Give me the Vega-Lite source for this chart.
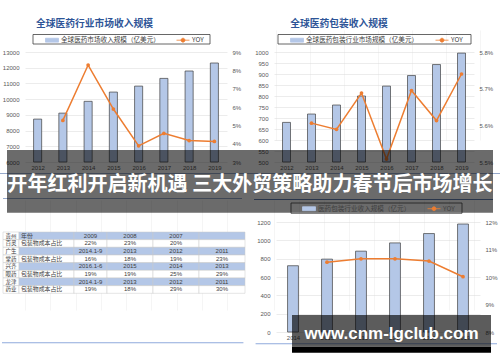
{
  "$schema": "https://vega.github.io/schema/vega-lite/v6.json",
  "width": 500,
  "height": 362,
  "autosize": "none",
  "padding": 0,
  "config": {
    "view": {"stroke": null},
    "font": "Liberation Sans",
    "axis": {"labelFontSize": 6, "labelColor": "#595959", "labelFont": "Liberation Sans", "ticks": false, "domain": false, "grid": false, "title": null, "labelLimit": 100},
    "legend": {"orient": "none", "direction": "horizontal", "title": null, "padding": 0, "labelFontSize": 6.6, "labelFont": "Noto Sans CJK SC", "labelColor": "#404040", "symbolSize": 169, "symbolStrokeWidth": 0.8, "columnPadding": 14, "labelOffset": 2, "labelLimit": 200}
  },
  "datasets": {
    "tl": [
      {"year": "2012", "revenue": 8730, "yoy": null},
      {"year": "2013", "revenue": 9110, "yoy": 0.0527},
      {"year": "2014", "revenue": 9860, "yoy": 0.0829},
      {"year": "2015", "revenue": 10450, "yoy": 0.0589},
      {"year": "2016", "revenue": 10830, "yoy": 0.0388},
      {"year": "2017", "revenue": 11320, "yoy": 0.0456},
      {"year": "2018", "revenue": 11790, "yoy": 0.0417},
      {"year": "2019", "revenue": 12300, "yoy": 0.0412}
    ],
    "tr": [
      {"year": "2012", "revenue": 680, "yoy": null},
      {"year": "2013", "revenue": 718, "yoy": 0.05606},
      {"year": "2014", "revenue": 759, "yoy": 0.05589},
      {"year": "2015", "revenue": 800, "yoy": 0.05688},
      {"year": "2016", "revenue": 845, "yoy": 0.05508},
      {"year": "2017", "revenue": 893, "yoy": 0.05695},
      {"year": "2018", "revenue": 943, "yoy": 0.05613},
      {"year": "2019", "revenue": 995, "yoy": 0.0574}
    ],
    "br": [
      {"year": "2014", "revenue": 723, "yoy": null},
      {"year": "2015", "revenue": 795, "yoy": 0.1054},
      {"year": "2016", "revenue": 882, "yoy": 0.1066},
      {"year": "2017", "revenue": 972, "yoy": 0.1066},
      {"year": "2018", "revenue": 1074, "yoy": 0.1058},
      {"year": "2019", "revenue": 1178, "yoy": 0.1001}
    ],
    "panels": [
      {"panel": "left"},
      {"panel": "right"}
    ],
    "frame": [
      {"frame": "legend box"}
    ],
    "table": [
      {"row": 0, "col": 0, "kind": "year", "text": "贵州"},
      {"row": 0, "col": 1, "kind": "year", "text": "年份"},
      {"row": 0, "col": 2, "kind": "year", "text": "2009"},
      {"row": 0, "col": 3, "kind": "year", "text": "2008"},
      {"row": 0, "col": 4, "kind": "year", "text": "2007"},
      {"row": 0, "col": 5, "kind": "year", "text": ""},
      {"row": 1, "col": 0, "kind": "share", "text": "百灵"},
      {"row": 1, "col": 1, "kind": "share", "text": "包装物成本占比"},
      {"row": 1, "col": 2, "kind": "share", "text": "22%"},
      {"row": 1, "col": 3, "kind": "share", "text": "23%"},
      {"row": 1, "col": 4, "kind": "share", "text": "20%"},
      {"row": 1, "col": 5, "kind": "share", "text": ""},
      {"row": 2, "col": 0, "kind": "year", "text": "广生"},
      {"row": 2, "col": 1, "kind": "year", "text": ""},
      {"row": 2, "col": 2, "kind": "year", "text": "2014.1-9"},
      {"row": 2, "col": 3, "kind": "year", "text": "2013"},
      {"row": 2, "col": 4, "kind": "year", "text": "2012"},
      {"row": 2, "col": 5, "kind": "year", "text": "2011"},
      {"row": 3, "col": 0, "kind": "share", "text": "堂药"},
      {"row": 3, "col": 1, "kind": "share", "text": "包装物成本占比"},
      {"row": 3, "col": 2, "kind": "share", "text": "16%"},
      {"row": 3, "col": 3, "kind": "share", "text": "18%"},
      {"row": 3, "col": 4, "kind": "share", "text": "19%"},
      {"row": 3, "col": 5, "kind": "share", "text": "23%"},
      {"row": 4, "col": 0, "kind": "year", "text": "兴齐"},
      {"row": 4, "col": 1, "kind": "year", "text": ""},
      {"row": 4, "col": 2, "kind": "year", "text": "2016.1-6"},
      {"row": 4, "col": 3, "kind": "year", "text": "2015"},
      {"row": 4, "col": 4, "kind": "year", "text": "2014"},
      {"row": 4, "col": 5, "kind": "year", "text": "2013"},
      {"row": 5, "col": 0, "kind": "share", "text": "眼药"},
      {"row": 5, "col": 1, "kind": "share", "text": "包装物成本占比"},
      {"row": 5, "col": 2, "kind": "share", "text": "19%"},
      {"row": 5, "col": 3, "kind": "share", "text": "19%"},
      {"row": 5, "col": 4, "kind": "share", "text": "25%"},
      {"row": 5, "col": 5, "kind": "share", "text": "29%"},
      {"row": 6, "col": 0, "kind": "year", "text": "龙津"},
      {"row": 6, "col": 1, "kind": "year", "text": ""},
      {"row": 6, "col": 2, "kind": "year", "text": "2014.1-9"},
      {"row": 6, "col": 3, "kind": "year", "text": "2013"},
      {"row": 6, "col": 4, "kind": "year", "text": "2012"},
      {"row": 6, "col": 5, "kind": "year", "text": "2011"},
      {"row": 7, "col": 0, "kind": "share", "text": "药业"},
      {"row": 7, "col": 1, "kind": "share", "text": "包装物成本占比"},
      {"row": 7, "col": 2, "kind": "share", "text": "19%"},
      {"row": 7, "col": 3, "kind": "share", "text": "18%"},
      {"row": 7, "col": 4, "kind": "share", "text": "29%"},
      {"row": 7, "col": 5, "kind": "share", "text": "30%"}
    ]
  },
  "resolve": {
    "scale": {"x": "independent", "y": "independent", "color": "independent"},
    "axis": {"x": "independent", "y": "independent"},
    "legend": {"color": "independent"}
  },
  "layer": [
    {
      "data": {"name": "tl"},
      "layer": [
        {
          "mark": {"type": "bar", "width": {"band": 0.32}, "stroke": "#404040", "strokeWidth": 0.7},
          "encoding": {
            "x": {"field": "year", "type": "ordinal", "scale": {"range": [25, 227], "paddingInner": 0, "paddingOuter": 0}, "axis": {"orient": "bottom", "offset": -200, "labelAngle": 0, "labelPadding": 2, "grid": true, "tickBand": "extent", "gridColor": "#efefef", "gridWidth": 0.6, "labelOverlap": false}},
            "y": {"field": "revenue", "type": "quantitative", "scale": {"domain": [6000, 13000], "range": [162, 52], "nice": false, "zero": false}, "axis": {"orient": "left", "offset": -25, "format": "d", "values": [6000, 7000, 8000, 9000, 10000, 11000, 12000, 13000], "grid": true, "gridColor": "#d9d9d9", "gridWidth": 0.5, "labelPadding": 6}},
            "y2": {"datum": 6000},
            "color": {
              "datum": "全球医药市场收入规模（亿美元）",
              "scale": {"domain": ["全球医药市场收入规模（亿美元）", "YOY"], "range": ["#B4C7E7", "#ED7D31"]},
              "legend": {
                "legendX": 45, "legendY": 33,
                "symbolType": {"expr": "datum.value == 'YOY' ? 'M-1,0H1M0.3,0A0.3,0.3,0,1,1,-0.3,0A0.3,0.3,0,1,1,0.3,0Z' : 'M-1,-0.3H1V0.3H-1Z'"},
                "symbolStrokeColor": {"expr": "datum.value == 'YOY' ? '#ED7D31' : '#404040'"}
              }
            }
          }
        },
        {
          "mark": {"type": "line", "strokeWidth": 1.5, "point": {"filled": true, "size": 14}},
          "encoding": {
            "x": {"field": "year", "type": "ordinal"},
            "y": {"field": "yoy", "type": "quantitative", "scale": {"domain": [0.03, 0.09], "range": [162, 52], "nice": false, "zero": false}, "axis": {"orient": "right", "offset": -273, "format": ".0%", "values": [0.03, 0.04, 0.05, 0.06, 0.07, 0.08, 0.09], "labelPadding": 5}},
            "color": {"datum": "YOY", "legend": null}
          }
        }
      ],
      "resolve": {"scale": {"y": "independent"}, "axis": {"y": "independent"}}
    },
    {
      "data": {"name": "tr"},
      "layer": [
        {
          "mark": {"type": "bar", "width": {"band": 0.32}, "stroke": "#404040", "strokeWidth": 0.7},
          "encoding": {
            "x": {"field": "year", "type": "ordinal", "scale": {"range": [274, 474], "paddingInner": 0, "paddingOuter": 0}, "axis": {"orient": "bottom", "offset": -200, "labelAngle": 0, "labelPadding": 2, "grid": true, "tickBand": "extent", "gridColor": "#efefef", "gridWidth": 0.6, "labelOverlap": false}},
            "y": {"field": "revenue", "type": "quantitative", "scale": {"domain": [500, 1000], "range": [162, 52], "nice": false, "zero": false}, "axis": {"orient": "left", "offset": -274, "format": "d", "values": [500, 550, 600, 650, 700, 750, 800, 850, 900, 950, 1000], "grid": true, "gridColor": "#d9d9d9", "gridWidth": 0.5, "labelPadding": 6}},
            "y2": {"datum": 500},
            "color": {
              "datum": "全球医药包装行业市场规模（亿美元）",
              "scale": {"domain": ["全球医药包装行业市场规模（亿美元）", "YOY"], "range": ["#B4C7E7", "#ED7D31"]},
              "legend": {
                "legendX": 290, "legendY": 33,
                "symbolType": {"expr": "datum.value == 'YOY' ? 'M-1,0H1M0.3,0A0.3,0.3,0,1,1,-0.3,0A0.3,0.3,0,1,1,0.3,0Z' : 'M-1,-0.3H1V0.3H-1Z'"},
                "symbolStrokeColor": {"expr": "datum.value == 'YOY' ? '#ED7D31' : '#404040'"}
              }
            }
          }
        },
        {
          "mark": {"type": "line", "strokeWidth": 1.5, "point": {"filled": true, "size": 14}},
          "encoding": {
            "x": {"field": "year", "type": "ordinal"},
            "y": {"field": "yoy", "type": "quantitative", "scale": {"domain": [0.055, 0.058], "range": [162, 52], "nice": false, "zero": false}, "axis": {"orient": "right", "offset": -26, "format": ".1%", "values": [0.055, 0.056, 0.057, 0.058], "labelPadding": 5}},
            "color": {"datum": "YOY", "legend": null}
          }
        }
      ],
      "resolve": {"scale": {"y": "independent"}, "axis": {"y": "independent"}}
    },
    {
      "data": {"name": "frame"},
      "mark": {"type": "rect", "filled": false, "stroke": "#404040", "strokeWidth": 0.8},
      "encoding": {
        "x": {"field": "frame", "type": "nominal", "scale": {"type": "band", "range": [33, 210], "paddingInner": 0, "paddingOuter": 0}, "axis": null},
        "y": {"field": "frame", "type": "nominal", "scale": {"type": "band", "range": [34.5, 44], "paddingInner": 0, "paddingOuter": 0}, "axis": null}
      }
    },
    {
      "data": {"name": "frame"},
      "mark": {"type": "rect", "filled": false, "stroke": "#404040", "strokeWidth": 0.8},
      "encoding": {
        "x": {"field": "frame", "type": "nominal", "scale": {"type": "band", "range": [278, 471], "paddingInner": 0, "paddingOuter": 0}, "axis": null},
        "y": {"field": "frame", "type": "nominal", "scale": {"type": "band", "range": [34.5, 44], "paddingInner": 0, "paddingOuter": 0}, "axis": null}
      }
    },
    {
      "data": {"values": [{"title": "全球医药行业市场收入规模"}]},
      "mark": {"type": "text", "font": "Noto Sans CJK SC", "fontWeight": "bold", "fontSize": 9.75, "color": "#2E5597", "baseline": "middle"},
      "encoding": {
        "x": {"field": "title", "type": "nominal", "scale": {"type": "band", "range": [36, 153], "paddingInner": 0, "paddingOuter": 0}, "axis": null},
        "y": {"field": "title", "type": "nominal", "scale": {"type": "band", "range": [19, 29], "paddingInner": 0, "paddingOuter": 0}, "axis": null},
        "text": {"field": "title"}
      }
    },
    {
      "data": {"values": [{"title": "全球医药包装收入规模"}]},
      "mark": {"type": "text", "font": "Noto Sans CJK SC", "fontWeight": "bold", "fontSize": 9.75, "color": "#2E5597", "baseline": "middle"},
      "encoding": {
        "x": {"field": "title", "type": "nominal", "scale": {"type": "band", "range": [290, 388], "paddingInner": 0, "paddingOuter": 0}, "axis": null},
        "y": {"field": "title", "type": "nominal", "scale": {"type": "band", "range": [19, 29], "paddingInner": 0, "paddingOuter": 0}, "axis": null},
        "text": {"field": "title"}
      }
    },
    {
      "data": {"name": "panels"},
      "mark": {"type": "rect", "fill": "#2F5597"},
      "encoding": {
        "x": {"field": "panel", "type": "nominal", "scale": {"type": "band", "range": [0, 500], "paddingInner": 0, "paddingOuter": 0}, "axis": null},
        "y": {"field": "panel", "type": "nominal", "scale": {"type": "band", "range": [173, 174], "paddingInner": 0, "paddingOuter": 0}, "axis": null}
      }
    },
    {
      "data": {"name": "panels"},
      "mark": {"type": "rect", "fill": "#2F5597"},
      "encoding": {
        "x": {"field": "panel", "type": "nominal", "scale": {"type": "band", "range": [3, 493], "paddingInner": 0.048, "paddingOuter": 0}, "axis": null},
        "y": {"field": "panel", "type": "nominal", "scale": {"type": "band", "range": [198.5, 199.7], "paddingInner": 0, "paddingOuter": 0}, "axis": null}
      }
    },
    {
      "data": {"name": "table"},
      "transform": [{"filter": "datum.col == 0"}],
      "encoding": {
        "x": {"field": "col", "type": "ordinal", "scale": {"type": "band", "range": [3, 19], "paddingInner": 0, "paddingOuter": 0}, "axis": null},
        "y": {"field": "row", "type": "ordinal", "scale": {"type": "band", "range": [232, 293.3], "paddingInner": 0, "paddingOuter": 0}, "axis": null}
      },
      "layer": [
        {"mark": {"type": "rect", "stroke": "#c8c8c8", "strokeWidth": 0.5, "fill": "#ffffff"}},
        {"mark": {"type": "text", "fontSize": 5.5, "font": "Noto Sans CJK SC", "color": "#404040"}, "encoding": {"text": {"field": "text"}}}
      ]
    },
    {
      "data": {"name": "table"},
      "transform": [{"filter": "datum.col == 1"}],
      "encoding": {
        "x": {"field": "col", "type": "ordinal", "scale": {"type": "band", "range": [19, 74], "paddingInner": 0, "paddingOuter": 0}, "axis": null},
        "y": {"field": "row", "type": "ordinal", "scale": {"type": "band", "range": [232, 293.3], "paddingInner": 0, "paddingOuter": 0}, "axis": null}
      },
      "layer": [
        {"mark": {"type": "rect", "stroke": "#c8c8c8", "strokeWidth": 0.5}, "encoding": {"fill": {"condition": {"test": "datum.kind == 'year'", "value": "#B4C7E7"}, "value": "#ffffff"}}},
        {"mark": {"type": "text", "fontSize": 5.9, "font": "Noto Sans CJK SC", "color": "#404040", "align": "left", "dx": -25.5}, "encoding": {"text": {"field": "text"}}}
      ]
    },
    {
      "data": {"name": "table"},
      "transform": [{"filter": "datum.col == 2"}],
      "encoding": {
        "x": {"field": "col", "type": "ordinal", "scale": {"type": "band", "range": [74, 107], "paddingInner": 0, "paddingOuter": 0}, "axis": null},
        "y": {"field": "row", "type": "ordinal", "scale": {"type": "band", "range": [232, 293.3], "paddingInner": 0, "paddingOuter": 0}, "axis": null}
      },
      "layer": [
        {"mark": {"type": "rect", "stroke": "#c8c8c8", "strokeWidth": 0.5}, "encoding": {"fill": {"condition": {"test": "datum.kind == 'year'", "value": "#B4C7E7"}, "value": "#ffffff"}}},
        {"mark": {"type": "text", "fontSize": 6, "color": "#404040"}, "encoding": {"text": {"field": "text"}}}
      ]
    },
    {
      "data": {"name": "table"},
      "transform": [{"filter": "datum.col == 3"}],
      "encoding": {
        "x": {"field": "col", "type": "ordinal", "scale": {"type": "band", "range": [107, 153], "paddingInner": 0, "paddingOuter": 0}, "axis": null},
        "y": {"field": "row", "type": "ordinal", "scale": {"type": "band", "range": [232, 293.3], "paddingInner": 0, "paddingOuter": 0}, "axis": null}
      },
      "layer": [
        {"mark": {"type": "rect", "stroke": "#c8c8c8", "strokeWidth": 0.5}, "encoding": {"fill": {"condition": {"test": "datum.kind == 'year'", "value": "#B4C7E7"}, "value": "#ffffff"}}},
        {"mark": {"type": "text", "fontSize": 6, "color": "#404040"}, "encoding": {"text": {"field": "text"}}}
      ]
    },
    {
      "data": {"name": "table"},
      "transform": [{"filter": "datum.col == 4"}],
      "encoding": {
        "x": {"field": "col", "type": "ordinal", "scale": {"type": "band", "range": [153, 199], "paddingInner": 0, "paddingOuter": 0}, "axis": null},
        "y": {"field": "row", "type": "ordinal", "scale": {"type": "band", "range": [232, 293.3], "paddingInner": 0, "paddingOuter": 0}, "axis": null}
      },
      "layer": [
        {"mark": {"type": "rect", "stroke": "#c8c8c8", "strokeWidth": 0.5}, "encoding": {"fill": {"condition": {"test": "datum.kind == 'year'", "value": "#B4C7E7"}, "value": "#ffffff"}}},
        {"mark": {"type": "text", "fontSize": 6, "color": "#404040"}, "encoding": {"text": {"field": "text"}}}
      ]
    },
    {
      "data": {"name": "table"},
      "transform": [{"filter": "datum.col == 5"}],
      "encoding": {
        "x": {"field": "col", "type": "ordinal", "scale": {"type": "band", "range": [199, 245], "paddingInner": 0, "paddingOuter": 0}, "axis": null},
        "y": {"field": "row", "type": "ordinal", "scale": {"type": "band", "range": [232, 293.3], "paddingInner": 0, "paddingOuter": 0}, "axis": null}
      },
      "layer": [
        {"mark": {"type": "rect", "stroke": "#c8c8c8", "strokeWidth": 0.5}, "encoding": {"fill": {"condition": {"test": "datum.kind == 'year'", "value": "#B4C7E7"}, "value": "#ffffff"}}},
        {"mark": {"type": "text", "fontSize": 6, "color": "#404040"}, "encoding": {"text": {"field": "text"}}}
      ]
    },
    {
      "data": {"name": "br"},
      "layer": [
        {
          "mark": {"type": "bar", "width": {"band": 0.32}, "stroke": "#404040", "strokeWidth": 0.7},
          "encoding": {
            "x": {"field": "year", "type": "ordinal", "scale": {"range": [276, 480], "paddingInner": 0, "paddingOuter": 0}, "axis": {"orient": "bottom", "offset": -30, "labelAngle": 0, "labelPadding": 2, "grid": true, "tickBand": "extent", "gridColor": "#efefef", "gridWidth": 0.6, "labelOverlap": false}},
            "y": {"field": "revenue", "type": "quantitative", "scale": {"domain": [0, 1200], "range": [332, 222], "nice": false}, "axis": {"orient": "left", "offset": -276, "format": "d", "values": [0, 200, 400, 600, 800, 1000, 1200], "grid": true, "gridColor": "#d9d9d9", "gridWidth": 0.5, "labelPadding": 6}},
            "color": {
              "datum": "医药包装行业收入规模（亿元）",
              "scale": {"domain": ["医药包装行业收入规模（亿元）", "YOY"], "range": ["#B4C7E7", "#ED7D31"]},
              "legend": {
                "legendX": 302, "legendY": 201.5,
                "symbolType": {"expr": "datum.value == 'YOY' ? 'M-1,0H1M0.3,0A0.3,0.3,0,1,1,-0.3,0A0.3,0.3,0,1,1,0.3,0Z' : 'M-1,-0.3H1V0.3H-1Z'"},
                "symbolStrokeColor": {"expr": "datum.value == 'YOY' ? '#ED7D31' : '#404040'"}
              }
            }
          }
        },
        {
          "mark": {"type": "line", "strokeWidth": 1.5, "point": {"filled": true, "size": 14}},
          "encoding": {
            "x": {"field": "year", "type": "ordinal"},
            "y": {"field": "yoy", "type": "quantitative", "scale": {"domain": [0.08, 0.12], "range": [332, 222], "nice": false, "zero": false}, "axis": {"orient": "right", "offset": -20, "format": ".0%", "values": [0.08, 0.09, 0.1, 0.11, 0.12], "labelPadding": 5}},
            "color": {"datum": "YOY", "legend": null}
          }
        }
      ],
      "resolve": {"scale": {"y": "independent"}, "axis": {"y": "independent"}}
    },
    {
      "data": {"name": "frame"},
      "mark": {"type": "rect", "filled": false, "stroke": "#404040", "strokeWidth": 0.8},
      "encoding": {
        "x": {"field": "frame", "type": "nominal", "scale": {"type": "band", "range": [291, 462], "paddingInner": 0, "paddingOuter": 0}, "axis": null},
        "y": {"field": "frame", "type": "nominal", "scale": {"type": "band", "range": [203, 213.3], "paddingInner": 0, "paddingOuter": 0}, "axis": null}
      }
    },
    {
      "data": {"name": "panels"},
      "mark": {"type": "rect", "fill": "#8FAADC"},
      "encoding": {
        "x": {"field": "panel", "type": "nominal", "scale": {"type": "band", "range": [2, 497], "paddingInner": 0.048, "paddingOuter": 0}, "axis": null},
        "y": {"field": "panel", "type": "nominal", "scale": {"type": "band", "range": [342.3, 344.3], "paddingInner": 0, "paddingOuter": 0}, "axis": null}
      }
    },
    {
      "data": {"values": [{"headline": "开年红利开启新机遇 三大外贸策略助力春节后市场增长"}]},
      "encoding": {
        "x": {"field": "headline", "type": "nominal", "scale": {"type": "band", "range": [7, 493], "paddingInner": 0, "paddingOuter": 0}, "axis": null},
        "y": {"field": "headline", "type": "nominal", "scale": {"type": "band", "range": [150, 212.7], "paddingInner": 0, "paddingOuter": 0}, "axis": null}
      },
      "layer": [
        {"mark": {"type": "rect", "fill": "#000000", "fillOpacity": 0.58}},
        {"mark": {"type": "text", "color": "#ffffff", "fontSize": 20.05, "font": "Noto Sans CJK SC", "fontWeight": "bold", "baseline": "middle", "dy": 4}, "encoding": {"text": {"field": "headline"}}}
      ]
    },
    {
      "data": {"values": [{"site": "www.cnm-lgclub.com"}]},
      "encoding": {
        "x": {"field": "site", "type": "nominal", "scale": {"type": "band", "range": [292, 491], "paddingInner": 0, "paddingOuter": 0}, "axis": null},
        "y": {"field": "site", "type": "nominal", "scale": {"type": "band", "range": [315, 346.7], "paddingInner": 0, "paddingOuter": 0}, "axis": null}
      },
      "layer": [
        {"mark": {"type": "rect", "fill": "#000000", "fillOpacity": 0.64}},
        {"mark": {"type": "text", "color": "#ffffff", "fontSize": 17, "font": "Liberation Sans", "fontWeight": "bold", "baseline": "middle", "dy": 3}, "encoding": {"text": {"field": "site"}}}
      ]
    },
    {
      "data": {"values": [{"strip": "watermark base"}]},
      "mark": {"type": "rect", "fill": "#000000"},
      "encoding": {
        "x": {"field": "strip", "type": "nominal", "scale": {"type": "band", "range": [292, 491], "paddingInner": 0, "paddingOuter": 0}, "axis": null},
        "y": {"field": "strip", "type": "nominal", "scale": {"type": "band", "range": [346.7, 352.7], "paddingInner": 0, "paddingOuter": 0}, "axis": null}
      }
    }
  ]
}
